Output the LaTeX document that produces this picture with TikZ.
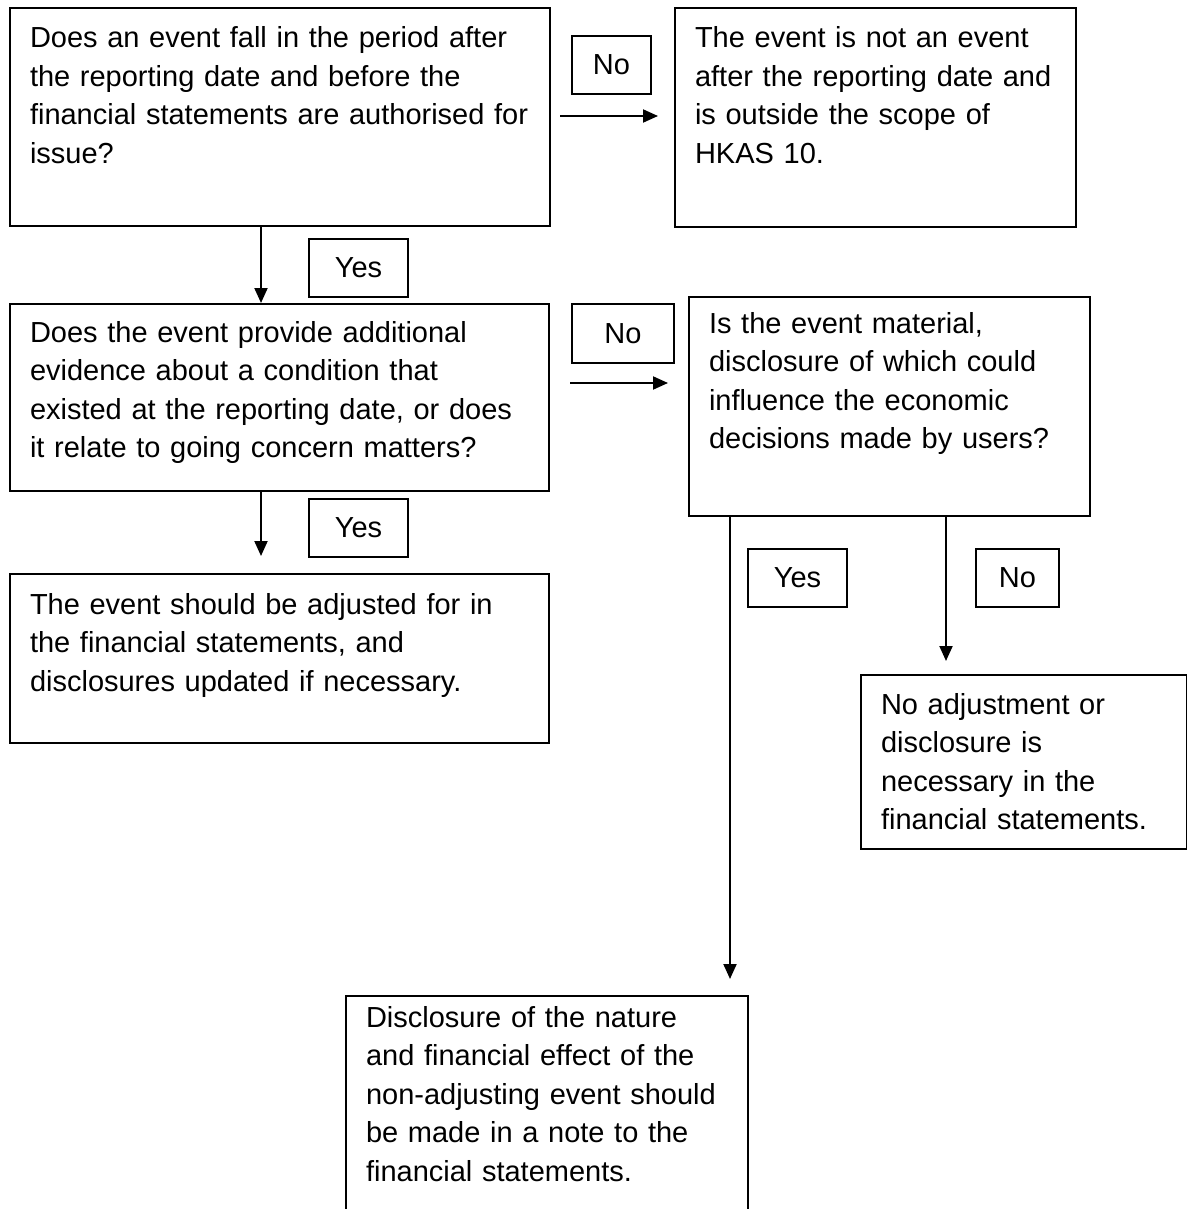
\documentclass[tikz,border=0pt]{standalone}
\usepackage{fontspec}
\setmainfont{Liberation Sans}
\usepackage{tikz}
\usetikzlibrary{arrows.meta}

\begin{document}
\begin{tikzpicture}[
	x=0.5pt, y=-0.5pt,
	line width=1pt,
	font=\fontsize{14.5pt}{19.25pt}\selectfont
]
\tikzset{
    mybox/.style = {rectangle, draw=black, align=left, anchor=north west, inner xsep=10pt, text height=10.5pt},
    mylabel/.style = {rectangle, draw=black, anchor=north west, inner sep=0pt, minimum height=29pt},
    myarrow/.style = {-{Triangle[length=7.5pt,width=6.5pt]}}
}
\path[use as bounding box, clip] (0,0) rectangle (1187,1209);
\node[mybox, text width=250pt, inner ysep=9.5pt, text depth=79.5pt] (q1) at (9,7) {Does an event fall in the period after\\ the reporting date and before the\\ financial statements are authorised for\\ issue?};
\node[mybox, text width=180.5pt, inner ysep=9.5pt, text depth=80pt] (outside) at (674,7) {The event is not an event\\ after the reporting date and\\ is outside the scope of\\ HKAS 10.};
\node[mybox, text width=249.5pt, inner ysep=8.5pt, text depth=66pt] (q2) at (9,303) {Does the event provide additional\\ evidence about a condition that\\ existed at the reporting date, or does\\ it relate to going concern matters?};
\node[mybox, text width=180.5pt, inner ysep=7.5pt, text depth=84pt] (q3) at (688,296) {Is the event material,\\ disclosure of which could\\ influence the economic\\ decisions made by users?};
\node[mybox, text width=249.5pt, inner ysep=9.5pt, text depth=55pt] (adjust) at (9,573) {The event should be adjusted for in\\ the financial statements, and\\ disclosures updated if necessary.};
\node[mybox, text width=143pt, inner ysep=9pt, text depth=58.5pt] (noadjust) at (860,674) {No adjustment or\\ disclosure is\\ necessary in the\\ financial statements.};
\node[mybox, text width=181pt, inner ysep=5pt, text depth=92pt] (disclose) at (345,995) {Disclosure of the nature\\ and financial effect of the\\ non-adjusting event should\\ be made in a note to the\\ financial statements.};

\node[mylabel, minimum width=39.5pt] (no1) at (571,35) {No};
\node[mylabel, minimum width=49.5pt] (yes1) at (308,238) {Yes};
\node[mylabel, minimum width=51pt, minimum height=29.5pt] (no2) at (571,303) {No};
\node[mylabel, minimum width=49.5pt] (yes2) at (308,498) {Yes};
\node[mylabel, minimum width=49.5pt] (yes3) at (747,548) {Yes};
\node[mylabel, minimum width=41.5pt] (no3) at (975,548) {No};

\coordinate (no1a) at (560,116);
\coordinate (no1b) at (658,116);
\coordinate (no2a) at (570,383);
\coordinate (no2b) at (668,383);
\coordinate (yes2b) at (261,556);
\coordinate (yes3b) at (730,979);
\coordinate (no3b) at (946,661);

\draw[myarrow] (no1a) -- (no1b);
\draw[myarrow] ([xshift=126pt]q1.south west) -- ([xshift=126pt]q2.north west);
\draw[myarrow] (no2a) -- (no2b);
\draw[myarrow] ([xshift=126pt]q2.south west) -- (yes2b);
\draw[myarrow] ([xshift=21pt]q3.south west) -- (yes3b);
\draw[myarrow] ([xshift=129pt]q3.south west) -- (no3b);
\end{tikzpicture}
\end{document}
